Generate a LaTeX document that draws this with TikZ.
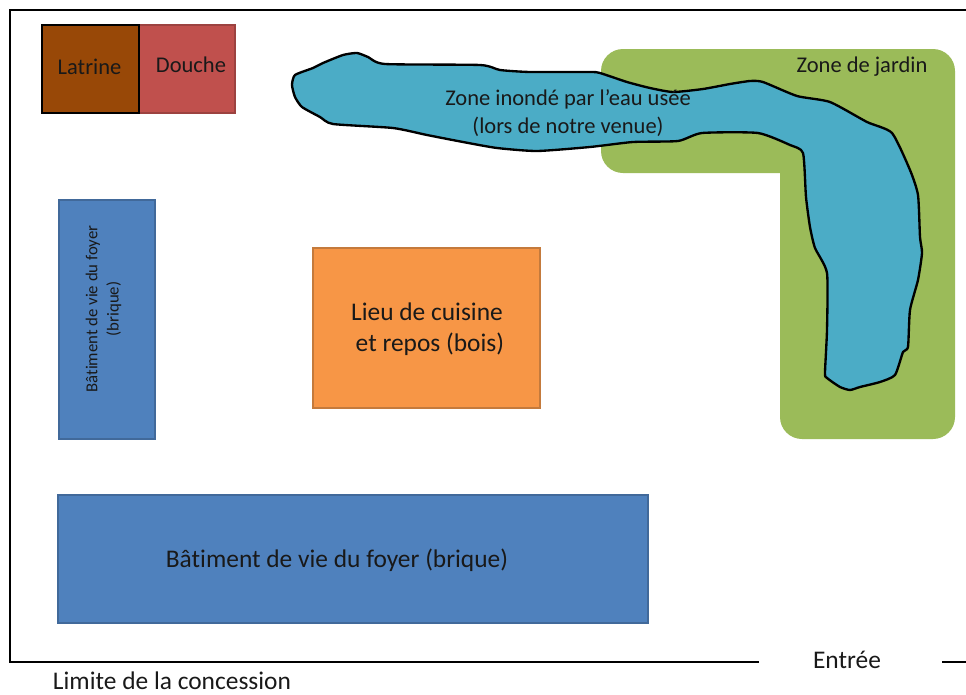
\documentclass[tikz,border=0pt]{standalone}
\usepackage{fontspec}
\setmainfont[Ligatures=NoCommon]{Carlito}
\definecolor{brique}{HTML}{4F81BD}
\definecolor{briquebord}{HTML}{41699A}
\definecolor{latrine}{HTML}{984807}
\definecolor{douche}{HTML}{C0504D}
\definecolor{douchebord}{HTML}{9C4240}
\definecolor{cuisine}{HTML}{F79646}
\definecolor{cuisinebord}{HTML}{C47A3C}
\definecolor{jardin}{HTML}{9BBB59}
\definecolor{eau}{HTML}{4BACC6}
\def\px{0.03cm}
\tikzset{
  salle/.style={draw, line width=1.5pt, inner sep=0pt, outer sep=0pt, anchor=north west},
  etiquette/.style={inner sep=0pt, text=black!90, align=center},
  petit/.style={font=\fontsize{19.2}{23.5}\selectfont},
  grand/.style={font=\fontsize{21.7}{26.4}\selectfont},
}
\begin{document}
\begin{tikzpicture}[x=0.03cm, y=-0.03cm]
  % cadre de l'image
  \useasboundingbox (0,0) rectangle (966,695);

  % limite de la concession
  \draw[line width=2pt] (759,662) -- (10,662) -- (10,10) -- (966,10);
  \draw[line width=2pt] (942,662) -- (966,662);

  % zone de jardin
  \fill[jardin, rounded corners=0.66cm] (601,173) -- (601,49) -- (955,49) -- (955,439) -- (780,439)
    [sharp corners] -- (780,173) [rounded corners=0.66cm] -- cycle;

  % zone inondee
  \draw[fill=eau, line width=2pt, line join=round] plot[smooth cycle, tension=0.35] coordinates {
    (292,85) (295,75) (313,68) (323,63) (343,55) (357,53) (368,57) (385,64)
    (480,65) (500,70) (530,72) (590,72) (600,73) (627,82) (650,88) (673,92)
    (703,89) (730,84) (750,81) (763,82) (797,96) (830,102) (867,122) (892,133)
    (910,170) (918,195) (920,237) (922,253) (918,280) (910,310) (908,347)
    (903,352) (895,375) (880,382) (860,387) (850,390) (840,387) (827,378)
    (825,373) (827,330) (827,273) (815,248) (810,227) (806,197) (803,153) (790,145)
    (758,133) (702,133) (678,141) (633,142) (590,147) (537,151) (497,148)
    (463,142) (427,135) (393,128) (333,124) (320,117) (302,107) (295,97)
  };

  % batiments
  \node[salle, fill=brique, draw=briquebord, minimum width=590*\px, minimum height=128*\px] (foyerbas) at (58,495) {};
  \node[salle, fill=brique, draw=briquebord, minimum width=96*\px, minimum height=239*\px] (foyerhaut) at (59,200) {};
  \node[salle, fill=cuisine, draw=cuisinebord, minimum width=227*\px, minimum height=160*\px] (cuisine) at (313,248) {};
  \node[salle, fill=douche, draw=douchebord, minimum width=96*\px, minimum height=88*\px] (douche) at (139,25) {};
  \node[salle, fill=latrine, draw=black, line width=1.7pt, minimum width=97*\px, minimum height=88*\px] (latrine) at (42,25) {};

  % textes
  \node[etiquette, petit] (txtlatrine) at (89.5,67) {Latrine};
  \node[etiquette, petit] (txtdouche) at (191,65) {Douche};
  \node[etiquette, petit] (txtjardin) at (862,67) {Zone de jardin};
  \node[etiquette, petit] (txteau) at (568,113) {Zone inondé par l’eau usée\\(lors de notre venue)};
  \node[etiquette, font=\fontsize{14.3}{18}\selectfont, rotate=90] (txtfoyerhaut) at (103.5,309) {Bâtiment de vie du foyer\\(brique)};
  \node[etiquette, grand] (txtcuisine) at (427,329) {Lieu de cuisine\\\hspace*{5pt}et repos (bois)};
  \node[etiquette, grand] (txtfoyerbas) at (337,560) {Bâtiment de vie du foyer (brique)};
  \node[etiquette, grand] (txtentree) at (847,660) {Entrée};
  \node[etiquette, grand] (txtlimite) at (172,681) {Limite de la concession};
\end{tikzpicture}
\end{document}
